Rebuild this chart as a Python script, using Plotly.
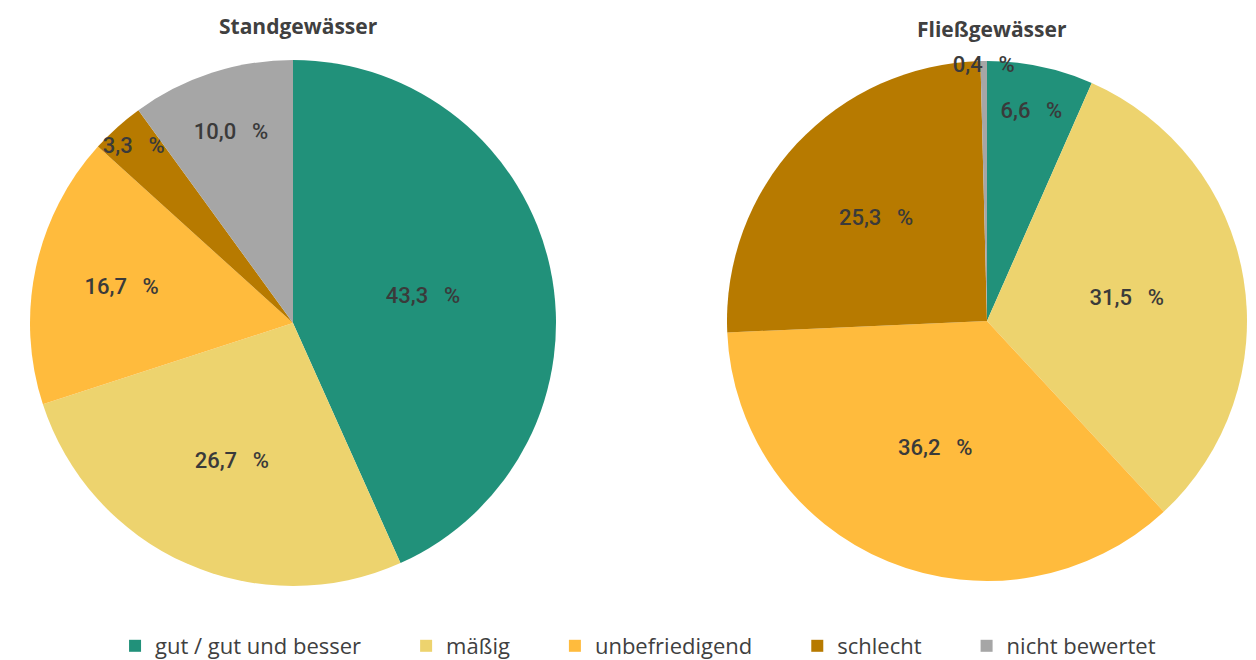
import plotly.graph_objects as go

categories = ["gut / gut und besser", "mäßig", "unbefriedigend", "schlecht", "nicht bewertet"]
stand_values = [43.3, 26.7, 16.7, 3.3, 10.0]
fliess_values = [6.6, 31.5, 36.2, 25.3, 0.4]
titles = ["Standgewässer", "Fließgewässer"]
colors = ["#21917A", "#EDD36E", "#FFBB3D", "#B77A00", "#A6A6A6"]

W, H = 1256, 660

# legend labels padded to widen the gaps between legend entries
legend_labels = [c + "\u00a0" * 7 for c in categories[:-1]] + [categories[-1]]


def fmt(v):
    return f"{v:.1f}".replace(".", ",") + "\u2002\u2009%"


def pie(values, x0, x1, y0, y1, show):
    return go.Pie(
        labels=legend_labels,
        values=values,
        text=[fmt(v) for v in values],
        textinfo="text",
        textposition="inside",
        insidetextorientation="horizontal",
        textfont=dict(family="Roboto", size=22, color="#3a3a3a", weight=500),
        marker=dict(colors=colors, line=dict(width=0)),
        sort=False,
        direction="clockwise",
        rotation=0,
        hovertemplate="%{label}: %{text}<extra></extra>",
        showlegend=show,
        domain=dict(x=[x0 / W, x1 / W], y=[1 - y1 / H, 1 - y0 / H]),
    )


fig = go.Figure()
fig.add_trace(pie(stand_values, 30, 556, 60, 586, True))
fig.add_trace(pie(fliess_values, 727, 1247, 61, 581, True))

fig.add_annotation(text="<b>" + titles[0] + "</b>", x=298 / W, y=1 - 26 / H, xref="paper", yref="paper",
                   xanchor="center", yanchor="middle",
                   showarrow=False, font=dict(family="Open Sans", size=21, color="#404040"))
fig.add_annotation(text="<b>" + titles[1] + "</b>", x=992 / W, y=1 - 29 / H, xref="paper", yref="paper",
                   xanchor="center", yanchor="middle",
                   showarrow=False, font=dict(family="Open Sans", size=21, color="#404040"))

fig.update_layout(
    width=W, height=H,
    margin=dict(l=0, r=0, t=0, b=0, autoexpand=False),
    paper_bgcolor="white",
    plot_bgcolor="white",
    uniformtext=dict(minsize=22, mode="show"),
    legend=dict(
        orientation="h", x=0.508, xanchor="center", y=1 - 646 / H, yanchor="middle",
        font=dict(family="Open Sans", size=22, color="#404040"),
        itemwidth=30, traceorder="normal",
    ),
)

fig.write_html("out.html", config={"displayModeBar": False},
               post_script="document.body.style.margin='0';document.body.style.overflow='hidden';")
